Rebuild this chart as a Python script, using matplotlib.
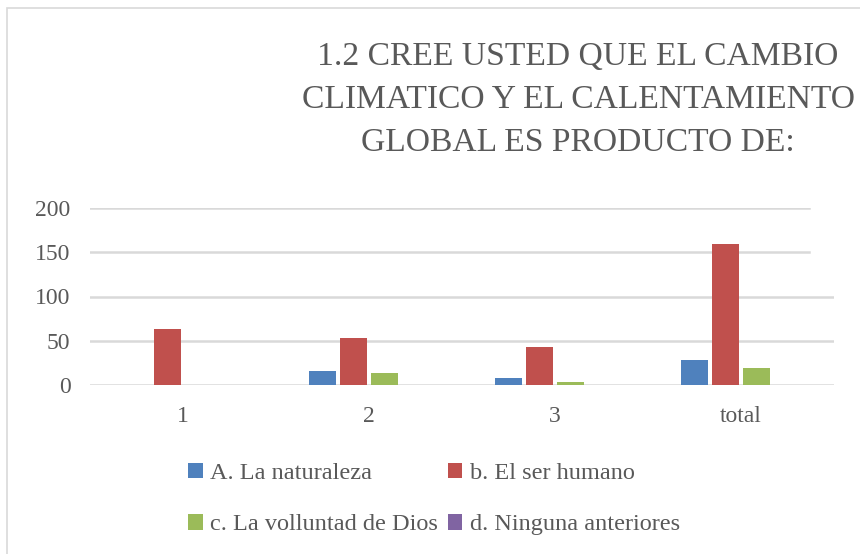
import matplotlib
matplotlib.use("Agg")
import matplotlib.pyplot as plt
import numpy as np
from matplotlib.patches import Rectangle

categories = ["1", "2", "3", "total"]
series_names = ["A. La naturaleza", "b. El ser humano", "c. La volluntad de Dios", "d. Ninguna anteriores"]
naturaleza = [0, 16, 8, 28]
ser_humano = [63, 53, 43, 159]
voluntad_dios = [0, 13, 3, 19]
ninguna = [0, 0, 0, 0]
yticks = [0, 50, 100, 150, 200]
title = "1.2 CREE USTED QUE EL CAMBIO\nCLIMATICO Y EL CALENTAMIENTO\nGLOBAL ES PRODUCTO DE:"

colors = ["#4f81bd", "#c0504d", "#9bbb59", "#8064a2"]
txt = "#595959"
serif = ["Liberation Serif", "DejaVu Serif"]

W, H = 860, 554
fig = plt.figure(figsize=(W/100, H/100), dpi=100)
fig.patches.append(Rectangle((7/W, 1-580/H), (W+20)/W, (580-8)/H, transform=fig.transFigure,
                             fill=False, edgecolor="#d9d9d9", linewidth=1.2))

ax = fig.add_axes([90/W, 1-385/H, 744/W, 177/H])
x = np.arange(len(categories))
step = 0.167
width = 0.145
all_series = [naturaleza, ser_humano, voluntad_dios, ninguna]
handles = []
for i, (vals, name) in enumerate(zip(all_series, series_names)):
    h = ax.bar(x + (i-1.5)*step, vals, width, color=colors[i], label=name, zorder=3)
    handles.append(h)

ax.set_xlim(-0.5, len(categories)-0.5)
ax.set_ylim(0, 200)
ax.set_yticks(yticks)
for v in yticks:
    ax.axhline(v, xmin=0, xmax=(0.966 if v >= 150 else 1.0), color="#d9d9d9", linewidth=1.8, zorder=0)
for s in ax.spines.values():
    s.set_visible(False)
ax.tick_params(length=0)
ax.set_xticks(x)
ax.set_xticklabels(categories)
for lab in ax.get_xticklabels() + ax.get_yticklabels():
    lab.set_fontfamily(serif)
    lab.set_fontsize(17)
    lab.set_color(txt)
ax.tick_params(axis="x", pad=15)
ax.tick_params(axis="y", pad=14)

fig.text(578/W, 1-42/H, title, ha="center", va="top", fontsize=24.2, color=txt,
         family=serif, linespacing=1.52)

order = [0, 2, 1, 3]
leg = fig.legend([handles[i] for i in order], [series_names[i] for i in order],
                 loc="center", bbox_to_anchor=(434/W, 1-499/H), ncol=2, frameon=False,
                 prop={"family": serif, "size": 17.5}, labelcolor=txt,
                 handlelength=0.6, handleheight=0.6, handletextpad=0.3,
                 columnspacing=0.4, labelspacing=1.25)

fig.savefig("out.png", dpi=100)
